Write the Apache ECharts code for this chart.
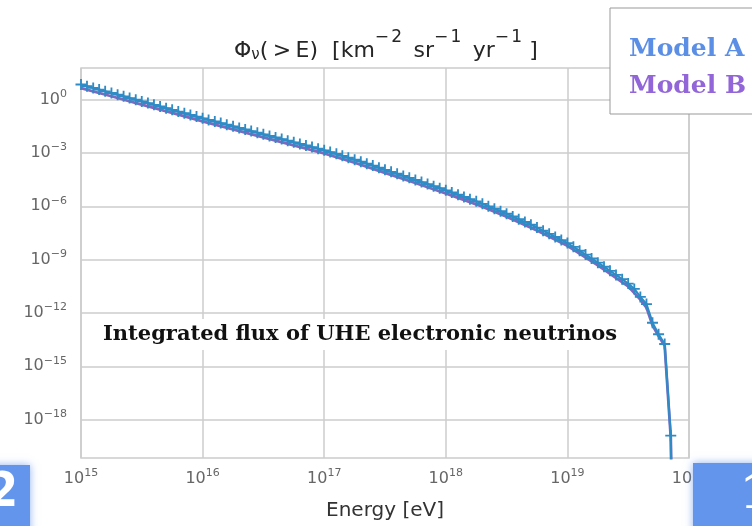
<!DOCTYPE html>
<html><head><meta charset="utf-8">
<script src="https://cdn.jsdelivr.net/npm/echarts@6/dist/echarts.min.js"></script>
<style>html,body{margin:0;padding:0;background:#fff}#c{width:752px;height:526px}</style>
</head><body><div id="c"></div><script>
// Model A sample energies (eV) and integrated flux (km^-2 sr^-1 yr^-1)
const energyA = [
  1.00e15,1.12e15,1.26e15,1.41e15,1.58e15,1.78e15,2.00e15,2.24e15,2.51e15,2.82e15,
  3.16e15,3.55e15,3.98e15,4.47e15,5.01e15,5.62e15,6.31e15,7.08e15,7.94e15,8.91e15,
  1.00e16,1.12e16,1.26e16,1.41e16,1.58e16,1.78e16,2.00e16,2.24e16,2.51e16,2.82e16,
  3.16e16,3.55e16,3.98e16,4.47e16,5.01e16,5.62e16,6.31e16,7.08e16,7.94e16,8.91e16,
  1.00e17,1.12e17,1.26e17,1.41e17,1.58e17,1.78e17,2.00e17,2.24e17,2.51e17,2.82e17,
  3.16e17,3.55e17,3.98e17,4.47e17,5.01e17,5.62e17,6.31e17,7.08e17,7.94e17,8.91e17,
  1.00e18,1.12e18,1.26e18,1.41e18,1.58e18,1.78e18,2.00e18,2.24e18,2.51e18,2.82e18,
  3.16e18,3.55e18,3.98e18,4.47e18,5.01e18,5.62e18,6.31e18,7.08e18,7.94e18,8.91e18,
  1.00e19,1.12e19,1.26e19,1.41e19,1.58e19,1.78e19,2.00e19,2.24e19,2.51e19,2.82e19,
  3.16e19,3.55e19,3.98e19,4.47e19,5.01e19,5.62e19,6.31e19,7.08e19,7.94e19
];
const fluxA = [
  7.08,5.69,4.57,3.67,2.95,2.37,1.91,1.53,1.23,0.989,
  0.794,0.638,0.513,0.412,0.331,0.266,0.214,0.172,0.138,0.111,
  8.91e-2,7.24e-2,5.89e-2,4.79e-2,3.89e-2,3.16e-2,2.57e-2,2.09e-2,1.70e-2,1.38e-2,
  1.12e-2,9.12e-3,7.41e-3,6.03e-3,4.90e-3,3.98e-3,3.24e-3,2.63e-3,2.14e-3,1.74e-3,
  1.41e-3,1.12e-3,8.91e-4,6.92e-4,5.37e-4,4.17e-4,3.24e-4,2.51e-4,1.95e-4,1.48e-4,
  1.12e-4,8.71e-5,6.76e-5,5.13e-5,3.98e-5,3.02e-5,2.29e-5,1.78e-5,1.35e-5,1.05e-5,
  7.94e-6,5.96e-6,4.47e-6,3.35e-6,2.51e-6,1.91e-6,1.38e-6,1.00e-6,7.24e-7,5.25e-7,
  3.80e-7,2.66e-7,1.86e-7,1.30e-7,9.12e-8,6.31e-8,4.22e-8,2.82e-8,1.88e-8,1.26e-8,
  8.51e-9,5.25e-9,3.16e-9,1.91e-9,1.15e-9,6.76e-10,3.98e-10,2.34e-10,1.38e-10,7.94e-11,
  4.47e-11,2.24e-11,7.94e-12,3.16e-12,2.82e-13,6.31e-14,1.78e-14,1.26e-19,1e-40
];
// Model B
const energyB = [
  1.00e15,1.78e15,3.16e15,5.62e15,1.00e16,1.78e16,3.16e16,5.62e16,1.00e17,1.78e17,
  3.16e17,5.62e17,1.00e18,1.78e18,3.16e18,5.62e18,1.00e19,1.78e19,3.16e19,3.98e19,
  4.47e19,5.01e19,5.62e19,6.31e19,7.08e19,7.94e19
];
const fluxB = [
  4.47,1.55,0.525,0.178,6.03e-2,2.14e-2,7.59e-3,2.69e-3,9.55e-4,2.82e-4,
  7.59e-5,2.04e-5,5.37e-6,1.29e-6,2.63e-7,4.37e-8,6.03e-9,4.79e-10,3.16e-11,5.62e-12,
  2.00e-12,2.00e-13,5.01e-14,1.41e-14,1.00e-19,1e-40
];
const seriesNames = ['Model A', 'Model B'];
const yTickValues = [1e-18, 1e-15, 1e-12, 1e-9, 1e-6, 1e-3, 1e0];
const xTickValues = [1e15, 1e16, 1e17, 1e18, 1e19, 1e20];
const titleText = '{a|\u03A6}{sub|\u03BD}{a|(}{s3| }{a|>}{s3| }{a|E)  [km}{sup|\u2212}{s1| }{sup|2}{a| }{s3| }{a|sr}{sup|\u2212}{s1| }{sup|1}{a| }{s3| }{a|yr}{sup|\u2212}{s1| }{sup|1}{a| ]}';
const xName = 'Energy [eV]';
const annotation = 'Integrated flux of UHE electronic neutrinos';

const chart = echarts.init(document.getElementById('c'), null, {renderer: 'canvas'});
function pow10Label(v) {
  const n = Math.round(Math.log10(v));
  return '{b|10}{s|' + (n < 0 ? '\u2212' + (-n) : n) + '}';
}
const tickColor = '#666';
const labelRich = {
  b: {fontSize: 16, fontFamily: 'DejaVu Sans', color: tickColor, lineHeight: 22},
  s: {fontSize: 11, fontFamily: 'DejaVu Sans', color: tickColor, lineHeight: 11, verticalAlign: 'top'}
};
const plusSymbol = 'path://M5,0h2v5h5v2h-5v5h-2v-5h-5v-2h5z';
const titleFont = {fontFamily: 'DejaVu Sans', color: '#262626', fontWeight: 'normal'};

chart.setOption({
  animation: false,
  backgroundColor: '#fff',
  title: {
    text: titleText,
    left: 229, top: 24,
    textStyle: {
      fontWeight: 'normal',
      rich: {
        a: Object.assign({fontSize: 22, lineHeight: 44}, titleFont),
        sub: Object.assign({fontSize: 15, padding: [9, 0, 0, 0]}, titleFont),
        sup: Object.assign({fontSize: 17, lineHeight: 17, verticalAlign: 'top'}, titleFont),
        s3: Object.assign({fontSize: 14}, titleFont),
        s1: Object.assign({fontSize: 7, lineHeight: 7, verticalAlign: 'top'}, titleFont)
      }
    }
  },
  legend: {
    left: 610, top: 8,
    orient: 'vertical',
    padding: [28, 24, 15, 14],
    itemGap: 11,
    itemWidth: 0, itemHeight: 0,
    backgroundColor: '#fff',
    borderColor: '#999', borderWidth: 1,
    selectedMode: false,
    data: [
      {name: seriesNames[0], icon: 'none', textStyle: {color: '#5b8fe6'}},
      {name: seriesNames[1], icon: 'none', textStyle: {color: '#9266d9'}}
    ],
    textStyle: {fontSize: 25, fontWeight: 'bold', fontFamily: 'DejaVu Serif', lineHeight: 26}
  },
  grid: {
    left: 81, right: 63, top: 68, bottom: 64,
    show: true, borderColor: '#cccccc', borderWidth: 1.5
  },
  xAxis: {
    type: 'log', logBase: 10,
    min: 1e15, max: 1e20,
    name: xName, nameLocation: 'middle', nameGap: 43,
    nameTextStyle: {fontSize: 20, fontFamily: 'DejaVu Sans', color: '#333'},
    axisLine: {show: false},
    axisTick: {show: false, customValues: xTickValues},
    axisLabel: {margin: 10, formatter: pow10Label, rich: labelRich, customValues: xTickValues},
    splitLine: {show: true, lineStyle: {color: '#cccccc', width: 1.5}}
  },
  yAxis: {
    type: 'log', logBase: 10,
    min: 6.9e-21, max: 60.3,
    axisLine: {show: false},
    axisTick: {show: false, customValues: yTickValues},
    axisLabel: {margin: 14, formatter: pow10Label, rich: labelRich, customValues: yTickValues},
    splitLine: {show: true, lineStyle: {color: '#cccccc', width: 1.5}}
  },
  graphic: [
    {type: 'text', left: 97, top: 319, z: 5,
     style: {text: annotation, font: 'bold 21px "DejaVu Serif"', fill: '#111',
             backgroundColor: '#fff', padding: [5, 6]}},
    {type: 'rect', shape: {x: -10, y: 465, width: 40, height: 70}, z: 100,
     style: {fill: '#6495ed', shadowBlur: 8, shadowColor: 'rgba(100,149,237,0.7)'}},
    {type: 'text', x: 18, y: 494, z: 101,
     style: {text: '2', font: 'bold 48px "Liberation Sans Narrow", "DejaVu Sans Condensed", sans-serif', fill: '#fff', align: 'right', verticalAlign: 'middle'}},
    {type: 'rect', shape: {x: 693, y: 463, width: 70, height: 70}, z: 100,
     style: {fill: '#6495ed', shadowBlur: 8, shadowColor: 'rgba(100,149,237,0.7)'}},
    {type: 'text', x: 740, y: 496, z: 101,
     style: {text: '1', font: 'bold 46px "DejaVu Serif"', fill: '#fff', align: 'left', verticalAlign: 'middle'}}
  ],
  series: [
    {
      name: seriesNames[0], type: 'line', z: 3,
      data: energyA.map((e, i) => [e, fluxA[i]]),
      symbol: plusSymbol, symbolSize: 11, showSymbol: true,
      lineStyle: {color: '#2e8bc6', width: 2.2},
      itemStyle: {color: '#2e8bc6'}
    },
    {
      name: seriesNames[1], type: 'line', z: 2,
      data: energyB.map((e, i) => [e, fluxB[i]]),
      showSymbol: false, symbol: 'none',
      lineStyle: {color: '#7f68c0', width: 2.8},
      itemStyle: {color: '#9266d9'}
    }
  ]
});
</script></body></html>
